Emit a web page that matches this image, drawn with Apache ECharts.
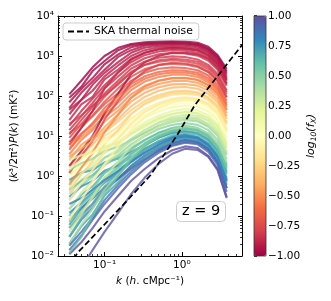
<!DOCTYPE html>
<html>
<head>
<meta charset="utf-8">
<script src="https://cdn.jsdelivr.net/npm/echarts@6/dist/echarts.min.js"></script>
<style>html,body{margin:0;padding:0;background:#fff}#c{width:331px;height:301px}</style>
</head>
<body>
<div id="c"></div>
<script>
// ---- data ----
const kValues = [0.035, 0.05, 0.07, 0.1, 0.15, 0.22, 0.33, 0.5, 0.75, 1.1, 1.6, 2.2, 2.9, 3.8];
const logFx = [
  -1.0, 0.92, -0.76, 0.36, -0.35, 0.66, -0.98, 1.0, -0.55, 0.1,
  -0.96, 0.74, -0.28, 0.42, -0.72, 0.95, -0.94, 0.48, -0.2, 0.8,
  -0.5, 0.18, -0.92, 0.85, -0.68, 0.54, -0.12, 0.72, -0.95, 0.25,
  -0.46, 0.6, -0.9, 0.7, -0.05, -0.64, 0.98, -0.25, 0.3, -0.78,
  -0.88, 0.44, -0.42, -0.9, 0.78, -0.86, 0.22, -0.6, 0.9, -0.84,
  0.5, -0.52, 0.02, -0.82, -0.15, -0.8, 0.65, 0.4, 0.88, 0.58,
  0.3, 0.82, -0.1, 0.6
];
const power = [
  [110,240,520,1000,1600,2000,2200,2300,2350,2300,2150,1700,1050,480],
  [0.014,0.032,0.08,0.2,0.5,1.1,2.2,3.8,5.6,6.8,6.2,4,1.9,0.4],
  [9,20,42,95,210,400,600,720,780,740,640,470,280,110],
  [0.35,0.8,1.3,2.8,4.6,8.5,14,21,27,30,28,20,12,4],
  [1.6,3.6,6,13.5,27,55,95,135,162,168,152,114,70,27],
  [0.15,0.34,0.55,1.2,1.9,3.5,5.8,9,12,13.5,12,8.5,4.5,1.3],
  [90,170,420,750,1400,1850,2050,2150,2200,2150,2000,1550,950,420],
  [0.011,0.022,0.05,0.13,0.32,0.75,1.5,2.8,4.4,5.5,5,3.2,1.5,0.3],
  [3.5,8,14,34,68,140,230,300,340,340,300,220,135,52],
  [0.7,1.6,2.5,5.2,9,17,28,41,52,58,54,41,25,9],
  [70,150,280,620,1100,1650,1950,2050,2100,2050,1900,1450,880,380],
  [0.06,0.15,0.3,0.75,1.35,2.6,4.5,7,9.5,11,9.5,6.5,3.4,0.9],
  [3.2,5,8.5,12.5,23,44,76,106,130,136,124,93,57,22],
  [0.7,1.2,1.6,2.9,4.1,7.5,12,17.5,22.5,25,23,17,10,3.3],
  [7,16,32,72,155,300,470,590,640,610,530,390,235,92],
  [0.05,0.11,0.2,0.48,0.85,1.7,3,4.8,6.8,8,7.2,4.8,2.3,0.5],
  [50,120,230,450,950,1400,1800,1950,2000,1950,1800,1350,800,340],
  [0.25,0.6,0.95,2.1,3.3,6.2,10,15,19,21,19,14,8,2.6],
  [1.2,2.8,4.3,10,17,36,62,88,108,114,105,79,49,19],
  [0.3,0.55,0.75,1.35,1.8,3,4.8,7.2,9.5,10.5,9.2,6.2,3.2,0.8],
  [5,9.5,16,30,53,110,180,240,280,280,250,185,115,44],
  [1.1,1.8,2.6,4.8,7.2,13,22,32,42,47,44,33,20,7.2],
  [35,80,190,380,700,1200,1600,1800,1850,1800,1650,1250,720,300],
  [0.03,0.08,0.16,0.43,0.85,1.8,3.3,5.4,7.6,8.8,7.8,5.2,2.6,0.6],
  [12,19,31,62,118,240,380,480,520,500,440,325,195,76],
  [0.1,0.24,0.46,1.2,2.2,4.5,7.8,12,16,18,16,11.5,6.5,2],
  [2,3.3,4.8,8.5,13.5,27,47,68,86,93,86,65,40,15],
  [0.8,1.2,1.4,2.2,2.7,4,6,9,12,13,11.5,8,4.2,1.2],
  [1.8,4.2,10,37,115,350,700,1000,1200,1200,1100,850,500,200],
  [0.5,1.2,1.9,3.8,6.2,11.5,19,28,36,40,37,28,17,6],
  [2.5,6,9.5,23,43,90,150,200,235,240,215,160,98,37],
  [0.45,0.75,1.05,1.9,2.9,5,8,12,15,17,15,11,6,1.8],
  [45,80,135,310,580,1000,1400,1650,1700,1650,1500,1150,660,270],
  [0.02,0.055,0.11,0.32,0.7,1.6,3,5.2,7.5,9,8,5.5,2.8,0.7],
  [0.9,2,3.3,7.4,12.5,24,40,58,73,80,74,56,35,13],
  [4.5,11,21,50,100,200,310,400,440,430,380,280,168,65],
  [0.002,0.005,0.014,0.04,0.12,0.35,0.9,2,3.6,4.8,4.5,3,1.4,0.28],
  [0.4,1.1,2.3,6.4,14,35,65,95,120,125,115,86,54,21],
  [0.15,0.38,0.75,1.9,3.8,8,14,22,30,34,32,24,14,5],
  [1.2,3.2,7.5,26,76,220,420,600,680,650,560,410,245,95],
  [25,62,95,260,460,850,1200,1450,1550,1500,1350,1000,590,240],
  [1.4,2.1,2.7,4.2,5.3,8,12,18,24,27,25,18,11,3.6],
  [3,4.8,7.6,16.5,35,72,120,165,195,200,182,136,83,31],
  [6,16,42,155,390,800,1200,1500,1600,1550,1400,1050,620,250],
  [0.12,0.21,0.38,0.68,1.15,2.2,3.8,6,8.5,9.8,8.8,6,3,0.8],
  [18,42,85,185,390,700,1050,1300,1400,1350,1200,900,530,210],
  [2.5,3.3,3.9,5.4,6.8,11,17,26,35,40,37,28,17,6],
  [6,11.5,19,41,83,170,270,350,390,385,340,250,150,58],
  [0.08,0.16,0.27,0.52,0.88,1.5,2.6,4.2,6,7.2,6.6,4.5,2.2,0.5],
  [14,31,67,155,310,580,880,1100,1200,1150,1020,760,450,180],
  [0.05,0.13,0.28,0.74,1.55,3.5,6.5,10.5,14.5,16.5,15,11,6,1.8],
  [0.6,1.6,3.8,12.5,34,90,170,240,280,285,255,190,118,45],
  [1.5,2.5,3.8,6.8,10.5,20,33,48,62,68,63,48,30,11],
  [11,25,53,115,245,480,720,900,980,940,820,600,360,140],
  [0.25,0.65,1.4,4,8.6,20,40,62,80,88,82,62,38,14],
  [20,33,58,104,195,380,600,780,850,820,720,530,320,125],
  [0.03,0.09,0.2,0.55,1.1,2.4,4.5,7.5,10.5,12,10.8,7.5,3.8,1.1],
  [0.02,0.06,0.15,0.45,1.1,2.8,5.8,10,14.5,17,15.5,11.5,6.5,2.2],
  [0.018,0.04,0.09,0.25,0.6,1.3,2.5,4.4,6.5,7.8,7,4.6,2.2,0.5],
  [0.07,0.18,0.35,0.9,1.7,3.6,6.5,10,13.5,15.5,14,10,5.5,1.6],
  [0.04,0.11,0.3,0.9,2.3,5.5,10.5,17,24,28,26,19.5,11.5,4],
  [0.2,0.28,0.45,0.8,1.3,2.3,3.9,6.2,8.6,9.9,8.8,5.9,3,0.75],
  [0.08,0.25,0.7,2,5.5,14,30,50,70,80,76,58,36,13],
  [0.012,0.03,0.1,0.35,1,2.6,5.5,9.5,13,15,13.5,9.5,5,1.5]
];
const noiseK = [0.04, 0.0446, 0.199, 0.395, 0.887, 1.475, 6.0];
const noiseP = [0.0085, 0.0119, 0.25, 1.06, 11.2, 59.6, 1880];

const xMajorTicks = [0.1, 1];
const xMajorLabels = ['10⁻¹', '10⁰'];
const xMinorTicks = [0.03,0.04,0.05,0.06,0.07,0.08,0.09,0.2,0.3,0.4,0.5,0.6,0.7,0.8,0.9,2,3,4,5,6];
const yMajorTicks = [0.01, 0.1, 1, 10, 100, 1000, 10000];
const yMajorLabels = ['10⁻²','10⁻¹','10⁰','10¹','10²','10³','10⁴'];
const yMinorTicks = [];
[0.01,0.1,1,10,100,1000].forEach(d => { for (let m = 2; m <= 9; m++) yMinorTicks.push(+(m*d).toPrecision(3)); });

// ---- style ----
const spectral = ['#9e0142','#d53e4f','#f46d43','#fdae61','#fee08b','#ffffbf','#e6f598','#abdda4','#66c2a5','#3288bd','#5e4fa2'];
function hex2rgb(h){return [parseInt(h.slice(1,3),16),parseInt(h.slice(3,5),16),parseInt(h.slice(5,7),16)];}
function cmap(c){
  const t = Math.max(0, Math.min(1, (c + 1) / 2)) * (spectral.length - 1);
  const i = Math.min(Math.floor(t), spectral.length - 2), f = t - i;
  const a = hex2rgb(spectral[i]), b = hex2rgb(spectral[i+1]);
  return 'rgb(' + a.map((v, j) => Math.round(v + (b[j] - v) * f)).join(',') + ')';
}
const FONT = 'DejaVu Sans';
function findLabel(vals, labels, v){
  const i = vals.findIndex(t => Math.abs(Math.log10(t) - Math.log10(v)) < 1e-6);
  return i >= 0 ? labels[i] : '';
}

const series = power.map((p, i) => ({
  type: 'line', xAxisIndex: 0, yAxisIndex: 0, symbol: 'none', silent: true,
  data: kValues.map((k, j) => [k, p[j]]),
  lineStyle: { color: cmap(logFx[i]), width: 2.1, opacity: 0.8 },
  z: 2
}));
series.push({
  name: 'SKA thermal noise', type: 'line', xAxisIndex: 0, yAxisIndex: 0, symbol: 'none', silent: true,
  data: noiseK.map((k, j) => [k, noiseP[j]]),
  itemStyle: { color: '#000' },
  lineStyle: { color: '#000', width: 1.7, type: [6, 3] }, z: 5
});
series.push({ type: 'scatter', xAxisIndex: 4, yAxisIndex: 4, data: [], silent: true });
const dummyIdx = series.length - 1;

const xBase = { type: 'log', min: 0.025, max: 6, gridIndex: 0, splitLine: { show: false } };
const yBase = { type: 'log', min: 0.01, max: 10000, gridIndex: 0, splitLine: { show: false } };
const lineOn = { show: true, lineStyle: { color: '#000', width: 1 } };

const option = {
  animation: false,
  grid: [
    { left: 58, top: 16, width: 184, height: 240, containLabel: false, outerBoundsMode: 'none' },
    { left: 254, top: 16, width: 12, height: 240, containLabel: false, outerBoundsMode: 'none',
      show: true, borderColor: '#333', borderWidth: 0.8, backgroundColor: 'transparent', z: 6 }
  ],
  xAxis: [
    Object.assign({}, xBase, { position: 'bottom', axisLine: lineOn,
      axisTick: { show: true, inside: true, length: 4, customValues: xMajorTicks, lineStyle: { color: '#000', width: 1 } },
      axisLabel: { customValues: xMajorTicks, formatter: v => findLabel(xMajorTicks, xMajorLabels, v), color: '#000', fontFamily: FONT, fontSize: 10.5, margin: 4 },
      name: '{i|k} ({i|h}. cMpc⁻¹)', nameLocation: 'middle', nameGap: 17,
      nameTextStyle: { color: '#000', fontFamily: FONT, fontSize: 10.5, rich: { i: { fontStyle: 'italic', fontFamily: FONT, fontSize: 10.5 } } } }),
    Object.assign({}, xBase, { position: 'bottom', axisLine: { show: false }, axisLabel: { show: false },
      axisTick: { show: true, inside: true, length: 2, customValues: xMinorTicks, lineStyle: { color: '#000', width: 0.8 } } }),
    Object.assign({}, xBase, { position: 'top', axisLine: lineOn, axisLabel: { show: false },
      axisTick: { show: true, inside: true, length: 4, customValues: xMajorTicks, lineStyle: { color: '#000', width: 1 } } }),
    Object.assign({}, xBase, { position: 'top', axisLine: { show: false }, axisLabel: { show: false },
      axisTick: { show: true, inside: true, length: 2, customValues: xMinorTicks, lineStyle: { color: '#000', width: 0.8 } } }),
    { type: 'value', gridIndex: 1, min: 0, max: 1, show: false }
  ],
  yAxis: [
    Object.assign({}, yBase, { position: 'left', axisLine: lineOn,
      axisTick: { show: true, inside: true, length: 4, customValues: yMajorTicks, lineStyle: { color: '#000', width: 1 } },
      axisLabel: { customValues: yMajorTicks, formatter: v => findLabel(yMajorTicks, yMajorLabels, v), color: '#000', fontFamily: FONT, fontSize: 10.5, margin: 4 },
      name: '({i|k}³/2π²){i|P}({i|k}) (mK²)', nameLocation: 'middle', nameGap: 35, nameRotate: 90,
      nameTextStyle: { color: '#000', fontFamily: FONT, fontSize: 10.5, rich: { i: { fontStyle: 'italic', fontFamily: FONT, fontSize: 10.5 } } } }),
    Object.assign({}, yBase, { position: 'left', axisLine: { show: false }, axisLabel: { show: false },
      axisTick: { show: true, inside: true, length: 2, customValues: yMinorTicks, lineStyle: { color: '#000', width: 0.8 } } }),
    Object.assign({}, yBase, { position: 'right', axisLine: lineOn, axisLabel: { show: false },
      axisTick: { show: true, inside: true, length: 4, customValues: yMajorTicks, lineStyle: { color: '#000', width: 1 } } }),
    Object.assign({}, yBase, { position: 'right', axisLine: { show: false }, axisLabel: { show: false },
      axisTick: { show: true, inside: true, length: 2, customValues: yMinorTicks, lineStyle: { color: '#000', width: 0.8 } } }),
    { type: 'value', gridIndex: 1, min: -1, max: 1, interval: 0.25, position: 'right',
      splitLine: { show: false }, axisLine: { show: false },
      axisTick: { show: true, length: 3, lineStyle: { color: '#000', width: 1.5 } },
      axisLabel: { color: '#000', fontFamily: FONT, fontSize: 10.5, margin: 2,
        formatter: v => (v < 0 ? '−' : '') + Math.abs(v).toFixed(2) },
      name: '{n|log}{s|10}{n|(f}{s|X}{n|)}', nameLocation: 'middle', nameRotate: 90, nameGap: 38,
      nameTextStyle: { color: '#000', fontFamily: FONT, fontSize: 11, fontStyle: 'italic',
        rich: {
          n: { fontFamily: FONT, fontSize: 11, fontStyle: 'italic', lineHeight: 14, verticalAlign: 'middle' },
          s: { fontFamily: FONT, fontSize: 7.5, fontStyle: 'italic', lineHeight: 14, verticalAlign: 'bottom' }
        } } }
  ],
  visualMap: [{
    type: 'continuous', min: -1, max: 1, orient: 'vertical', left: 254, top: 16,
    itemWidth: 12, itemHeight: 240, padding: 0, calculable: false, hoverLink: false,
    text: null, seriesIndex: dummyIdx, inRange: { color: spectral }
  }],
  legend: {
    show: true, orient: 'horizontal', left: 63, top: 23, right: null, bottom: null,
    data: ['SKA thermal noise'],
    itemWidth: 21, itemHeight: 10, padding: [3, 6, 3, 4],
    backgroundColor: 'rgba(255,255,255,0.85)', borderColor: '#cccccc', borderWidth: 1, borderRadius: 3,
    textStyle: { color: '#000', fontFamily: FONT, fontSize: 10.8 },
    itemStyle: { opacity: 0 },
    selectedMode: false
  },
  title: {
    text: 'z = 9', left: 176, top: 201, padding: [3, 6],
    backgroundColor: 'rgba(255,255,255,0.85)', borderColor: '#cccccc', borderWidth: 1, borderRadius: 4,
    textStyle: { color: '#000', fontFamily: FONT, fontSize: 14.5, fontWeight: 'normal' }
  },
  series: series
};
const chart = echarts.init(document.getElementById('c'), null, { renderer: 'canvas' });
chart.setOption(option);
</script>
</body>
</html>
